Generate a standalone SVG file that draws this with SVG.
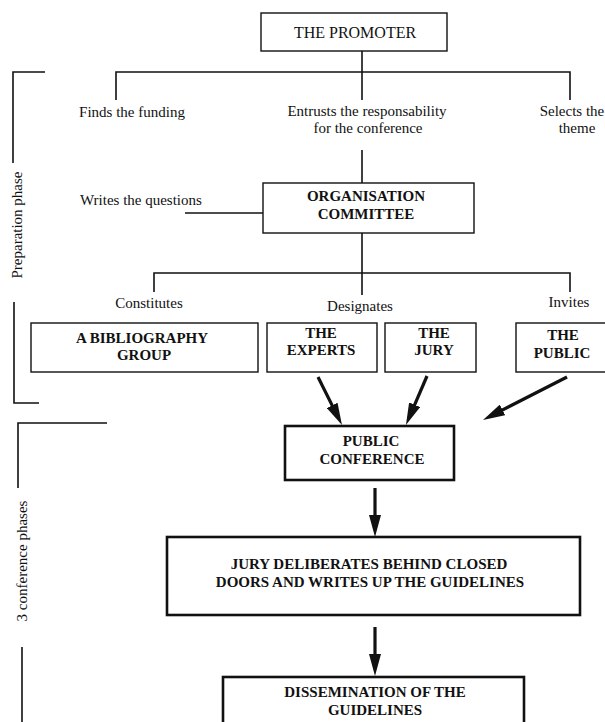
<svg xmlns="http://www.w3.org/2000/svg" width="605" height="722" viewBox="0 0 605 722">
<style>
text{font-family:"Liberation Serif","Times New Roman",serif;fill:#111;}
.lbl{font-size:15px;}
.ttl{font-size:16px;}
.b{font-size:15px;font-weight:bold;}
.box{fill:#fff;stroke:#111;stroke-width:1.4;}
.thick{fill:#fff;stroke:#111;stroke-width:2.6;}
.ln{stroke:#111;stroke-width:1.6;fill:none;}
.arr{stroke:#111;stroke-width:3.2;fill:none;marker-end:url(#ah);}
</style>
<defs>
<marker id="ah" viewBox="0 0 22 12" refX="12" refY="6" markerWidth="22" markerHeight="12" markerUnits="userSpaceOnUse" orient="auto">
<path d="M0,0 L22,6 L0,12 z" fill="#111"/>
</marker>
</defs>

<g id="phase-brackets">
<path class="ln" d="M45,72 H13 V163"/>
<path class="ln" d="M14,302 V403 H39"/>
<text class="lbl" text-anchor="middle" transform="translate(22,225) rotate(-90)">Preparation phase</text>
<path class="ln" d="M107,423 H18 V488"/>
<path class="ln" d="M22,647 V722"/>
<text class="lbl" text-anchor="middle" transform="translate(27,561) rotate(-90)">3 conference phases</text>
</g>

<g id="connectors">
<path class="ln" d="M362,51 V100"/>
<path class="ln" d="M116,100 V72 H570 V100"/>
<path class="ln" d="M362,150 V183"/>
<path class="ln" d="M185,213 H263"/>
<path class="ln" d="M362,233 V295"/>
<path class="ln" d="M154,292 V273 H570 V292"/>
<line class="arr" x1="318" y1="377" x2="337.5" y2="416.1"/>
<line class="arr" x1="427" y1="376" x2="409.9" y2="415.8"/>
<line class="arr" x1="567" y1="377" x2="491.9" y2="415.4"/>
<line class="arr" x1="375" y1="488" x2="375" y2="527"/>
<line class="arr" x1="375" y1="627" x2="375" y2="666"/>
</g>

<g id="promoter">
<rect class="box" x="261" y="13" width="186" height="38"/>
<text class="ttl" x="355" y="38" text-anchor="middle">THE PROMOTER</text>
</g>

<g id="label-funding"><text class="lbl" x="132" y="117" text-anchor="middle">Finds the funding</text></g>
<g id="label-entrusts">
<text class="lbl" x="367" y="116" text-anchor="middle">Entrusts the responsability</text>
<text class="lbl" x="368" y="133" text-anchor="middle">for the conference</text>
</g>
<g id="label-theme">
<text class="lbl" x="572" y="116" text-anchor="middle">Selects the</text>
<text class="lbl" x="577" y="133" text-anchor="middle">theme</text>
</g>

<g id="label-questions"><text class="lbl" x="80" y="205">Writes the questions</text></g>

<g id="organisation-committee">
<rect class="box" x="263" y="183" width="211" height="50"/>
<text class="b" x="366" y="201" text-anchor="middle">ORGANISATION</text>
<text class="b" x="366" y="219" text-anchor="middle">COMMITTEE</text>
</g>

<g id="label-constitutes"><text class="lbl" x="149" y="308" text-anchor="middle">Constitutes</text></g>
<g id="label-designates"><text class="lbl" x="360" y="311" text-anchor="middle">Designates</text></g>
<g id="label-invites"><text class="lbl" x="569" y="307" text-anchor="middle">Invites</text></g>

<g id="bibliography-group">
<rect class="box" x="31" y="323" width="227" height="49"/>
<text class="b" x="142" y="343" text-anchor="middle">A BIBLIOGRAPHY</text>
<text class="b" x="144" y="360" text-anchor="middle">GROUP</text>
</g>

<g id="experts">
<rect class="box" x="267" y="323" width="110" height="49"/>
<text class="b" x="321" y="338" text-anchor="middle">THE</text>
<text class="b" x="321" y="355" text-anchor="middle">EXPERTS</text>
</g>

<g id="jury">
<rect class="box" x="385" y="323" width="91" height="49"/>
<text class="b" x="434" y="338" text-anchor="middle">THE</text>
<text class="b" x="434" y="355" text-anchor="middle">JURY</text>
</g>

<g id="public">
<rect class="box" x="516" y="323" width="92" height="49"/>
<text class="b" x="563" y="340" text-anchor="middle">THE</text>
<text class="b" x="562" y="358" text-anchor="middle">PUBLIC</text>
</g>

<g id="public-conference">
<rect class="thick" x="285" y="426" width="169" height="54"/>
<text class="b" x="371" y="446" text-anchor="middle">PUBLIC</text>
<text class="b" x="372" y="464" text-anchor="middle">CONFERENCE</text>
</g>

<g id="jury-deliberates">
<rect class="thick" x="167" y="537" width="413" height="78"/>
<text class="b" x="369" y="569" text-anchor="middle">JURY DELIBERATES BEHIND CLOSED</text>
<text class="b" x="370" y="587" text-anchor="middle">DOORS AND WRITES UP THE GUIDELINES</text>
</g>

<g id="dissemination">
<rect class="thick" x="223" y="677" width="301" height="60"/>
<text class="b" x="375" y="697" text-anchor="middle">DISSEMINATION OF THE</text>
<text class="b" x="375" y="715" text-anchor="middle">GUIDELINES</text>
</g>
</svg>
